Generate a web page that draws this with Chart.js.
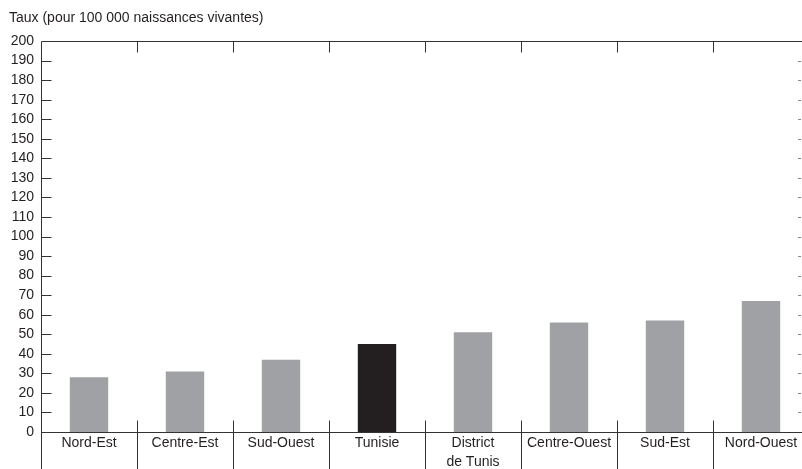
<!DOCTYPE html>
<html><head><meta charset="utf-8">
<script src="https://cdn.jsdelivr.net/npm/chart.js@4.4.1/dist/chart.umd.min.js"></script>
<style>
html,body{margin:0;padding:0;background:#fff;overflow:hidden;width:802px;height:469px;}
#wrap{position:absolute;left:0;top:0;width:809px;height:469px;}
</style></head><body>
<div id="wrap"><canvas id="c" width="809" height="469"></canvas></div>
<script>
const categories = ["Nord-Est","Centre-Est","Sud-Ouest","Tunisie",["District","de Tunis"],"Centre-Ouest","Sud-Est","Nord-Ouest"];
const rates = [28, 31, 37, 45, 51, 56, 57, 67];
const barColors = ["#a0a1a4","#a0a1a4","#a0a1a4","#231f20","#a0a1a4","#a0a1a4","#a0a1a4","#a0a1a4"];
const yTitle = "Taux (pour 100 000 naissances vivantes)";
const yMin = 0, yMax = 200, yStep = 10;

const FONT = "'Liberation Sans', Arial, sans-serif";
const LINE = "#333333";

const framePlugin = {
  id: 'frame',
  afterDraw(chart) {
    const ctx = chart.ctx, a = chart.chartArea;
    const xs = chart.scales.x, ys = chart.scales.y;
    const H = chart.height;
    ctx.save();
    ctx.strokeStyle = LINE;
    ctx.lineWidth = 1;
    const L = Math.round(a.left) + 0.5, T = Math.round(a.top) + 0.5, B = Math.round(a.bottom) + 0.5;
    ctx.beginPath();
    ctx.moveTo(L, T); ctx.lineTo(L, H);
    ctx.moveTo(L, T); ctx.lineTo(a.right, T);
    ctx.moveTo(L, B); ctx.lineTo(a.right, B);
    for (let v = yMin + yStep; v < yMax; v += yStep) {
      const y = Math.round(ys.getPixelForValue(v)) + 0.5;
      ctx.moveTo(L, y); ctx.lineTo(L + 10, y);
    }
    const half = (xs.getPixelForValue(1) - xs.getPixelForValue(0)) / 2;
    for (let i = 1; i <= categories.length; i++) {
      const x = Math.round(xs.getPixelForValue(i) - half) + 0.5;
      ctx.moveTo(x, T); ctx.lineTo(x, T + 11);
      ctx.moveTo(x, B - 12); ctx.lineTo(x, H);
    }
    ctx.stroke();
    ctx.strokeStyle = "#888";
    ctx.beginPath();
    for (let v = yMin + yStep; v < yMax; v += yStep) {
      const y = Math.round(ys.getPixelForValue(v)) + 0.5;
      ctx.moveTo(798, y); ctx.lineTo(801, y);
    }
    ctx.stroke();
    ctx.fillStyle = "#231f20";
    ctx.font = "14px " + FONT;
    ctx.textBaseline = "middle";
    ctx.textAlign = "left";
    ctx.fillText(yTitle, 9, 18);
    ctx.restore();
  }
};

new Chart(document.getElementById('c'), {
  type: 'bar',
  data: {
    labels: categories,
    datasets: [{
      data: rates,
      backgroundColor: barColors,
      borderWidth: 0,
      barPercentage: 0.4,
      categoryPercentage: 1.0
    }]
  },
  options: {
    responsive: false,
    animation: false,
    events: [],
    layout: { padding: { top: 41, right: 0, left: 0, bottom: 0 } },
    plugins: { legend: { display: false }, tooltip: { enabled: false }, title: { display: false } },
    scales: {
      x: {
        offset: true,
        grid: { display: false, drawTicks: false },
        border: { display: false },
        ticks: { color: "#231f20", font: { family: FONT, size: 14, lineHeight: 1.4 }, padding: 1, maxRotation: 0, autoSkip: false },
        afterFit(s) { s.height = 37; }
      },
      y: {
        min: yMin, max: yMax,
        grid: { display: false, drawTicks: false },
        border: { display: false },
        ticks: { stepSize: yStep, autoSkip: false, color: "#231f20", font: { family: FONT, size: 14 }, padding: 7 },
        afterFit(s) { s.width = 41; }
      }
    }
  },
  plugins: [framePlugin]
});
</script>
</body></html>
